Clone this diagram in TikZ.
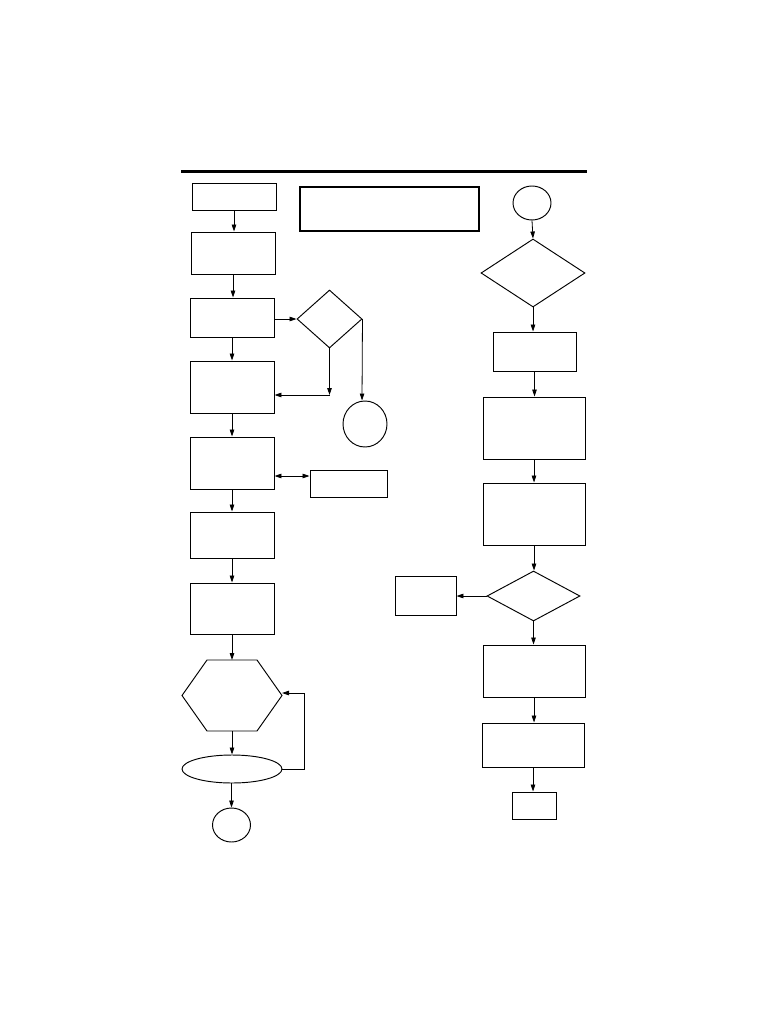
\documentclass[tikz,border=0pt]{standalone}
\usetikzlibrary{arrows.meta,shapes.geometric}
\begin{document}
\begin{tikzpicture}[x=1pt,y=-1pt,
  box/.style={draw,rectangle,line width=0.95pt,inner sep=0pt},
  bigbox/.style={draw,rectangle,line width=1.5pt,inner sep=0pt},
  dia/.style={draw,diamond,line width=0.95pt,inner sep=0pt},
  oval/.style={draw,ellipse,line width=0.95pt,inner sep=0pt},
  arr/.style={line width=0.8pt,-{Triangle[length=7pt,width=4.5pt]}},
  darr/.style={line width=0.8pt,{Triangle[length=7pt,width=4.5pt]}-{Triangle[length=7pt,width=4.5pt]}},
  ln/.style={line width=0.8pt}]
\useasboundingbox (0,0) rectangle (768,1024);
\fill[white] (0,0) rectangle (768,1024);
\draw[line width=3pt] (181,172) -- (587,172);
% left column
\node[box,minimum width=84pt,minimum height=27pt] (A) at (234,196.5) {};
\node[bigbox,minimum width=179pt,minimum height=44pt] (T) at (389.5,209) {};
\node[box,minimum width=84pt,minimum height=42pt] (B) at (233,253) {};
\node[box,minimum width=84pt,minimum height=39pt] (C) at (232,317.5) {};
\node[dia,minimum width=65pt,minimum height=58pt] (DL) at (329.5,319) {};
\node[box,minimum width=84pt,minimum height=52pt] (D) at (232,387) {};
\node[oval,minimum width=44pt,minimum height=46pt] (CL) at (365,424) {};
\node[box,minimum width=84pt,minimum height=52pt] (E) at (232,463) {};
\node[box,minimum width=77pt,minimum height=27pt] (S) at (348.5,483.5) {};
\node[box,minimum width=84pt,minimum height=46pt] (F) at (232,535) {};
\node[box,minimum width=84pt,minimum height=51pt] (G) at (232,608.5) {};
\draw[line width=0.95pt] (182,695.5) -- (207,660) -- (257,660) -- (282,695.5) -- (257,731) -- (207,731) -- cycle;
\coordinate (Htop) at (232,660);
\coordinate (Hbot) at (232,731);
\coordinate (Hright) at (282,693);
\node[oval,minimum width=100pt,minimum height=28pt] (EL) at (232,769) {};
\node[oval,minimum width=38pt,minimum height=34pt] (CB) at (231.5,825) {};
% right column
\node[oval,minimum width=38pt,minimum height=34pt] (CR) at (532,203) {};
\node[dia,minimum width=104pt,minimum height=68pt] (R1) at (533,273) {};
\node[box,minimum width=83pt,minimum height=39pt] (R2) at (534.5,351.5) {};
\node[box,minimum width=102pt,minimum height=62pt] (R3) at (534,428) {};
\node[box,minimum width=102pt,minimum height=62pt] (R4) at (534,514) {};
\node[dia,minimum width=93pt,minimum height=50pt] (R5) at (533.5,596) {};
\node[box,minimum width=61pt,minimum height=39pt] (BL) at (425.5,595.5) {};
\node[box,minimum width=102pt,minimum height=52pt] (R6) at (534,671) {};
\node[box,minimum width=102pt,minimum height=44pt] (R7) at (533,745) {};
\node[box,minimum width=44pt,minimum height=27pt] (R8) at (534,805.5) {};
% connectors left
\draw[arr] (A.south) -- (A.south |- B.north);
\draw[arr] (B.south) -- (B.south |- C.north);
\draw[arr] (C.east |- DL.west) -- (DL.west);
\draw[arr] (C.south) -- (D.north);
\coordinate (k1) at (329.5,395);
\draw[arr] (DL.south) -- (k1);
\draw[arr] (k1) -- (D.east |- k1);
\coordinate (k2) at (362,319);
\draw[arr] (DL.east) -- (CL.north -| k2);
\draw[arr] (D.south) -- (E.north);
\draw[darr] (E.east |- 0,476) -- (S.west |- 0,476);
\draw[arr] (E.south) -- (F.north);
\draw[arr] (F.south) -- (G.north);
\draw[arr] (G.south) -- (Htop);
\draw[arr] (Hbot) -- (EL.north);
\draw[arr] (EL.south -| CB.north) -- (CB.north);
\coordinate (k3) at (304,769);
\coordinate (k4) at (304,693);
\draw[ln] (EL.east) -- (k3) -- (k4);
\draw[arr] (k4) -- (Hright);
% connectors right
\draw[arr] (CR.south) -- (R1.north);
\draw[arr] (R1.south) -- (R1.south |- R2.north);
\draw[arr] (R2.south) -- (R2.south |- R3.north);
\draw[arr] (R3.south) -- (R4.north);
\draw[arr] (R4.south) -- (R4.south |- R5.north);
\draw[arr] (R5.west) -- (BL.east |- R5.west);
\draw[arr] (R5.south) -- (R5.south |- R6.north);
\draw[arr] (R6.south) -- (R6.south |- R7.north);
\draw[arr] (R7.south) -- (R7.south |- R8.north);
\end{tikzpicture}
\end{document}
